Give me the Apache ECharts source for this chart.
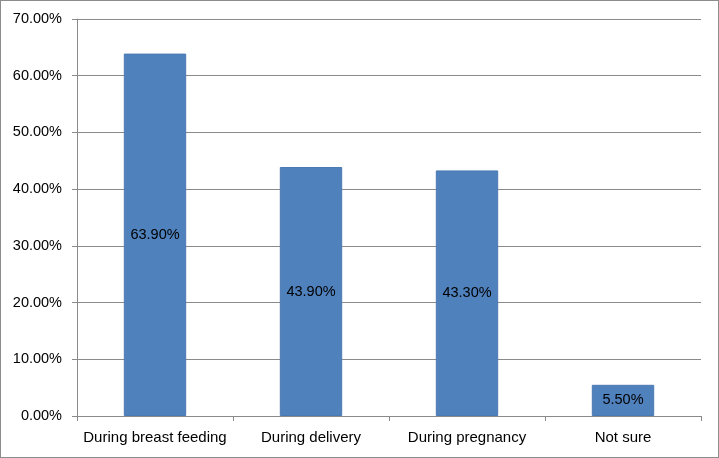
<!DOCTYPE html>
<html>
<head>
<meta charset="utf-8">
<script src="https://cdn.jsdelivr.net/npm/echarts@6/dist/echarts.min.js"></script>
<style>
  html, body { margin: 0; padding: 0; background: #fff; }
  #chart { width: 717px; height: 456px; border: 1px solid #8c8c8c; }
</style>
</head>
<body>
<div id="chart"></div>
<script>
const categories = ['During breast feeding', 'During delivery', 'During pregnancy', 'Not sure'];
const percentValues = [63.9, 43.9, 43.3, 5.5];
const yTicks = [0, 10, 20, 30, 40, 50, 60, 70];

const gridColor = '#8a8a8a';
const barColor = '#4f81bd';

const chart = echarts.init(document.getElementById('chart'));

chart.setOption({
    animation: false,
    textStyle: { fontFamily: 'Liberation Sans' },
    grid: { left: 76, right: 17, top: 18, bottom: 41 },
    xAxis: {
        type: 'category',
        data: categories,
        boundaryGap: true,
        axisLine: { lineStyle: { color: gridColor, width: 1 } },
        axisTick: { show: true, length: 5, alignWithLabel: false, lineStyle: { color: gridColor } },
        axisLabel: { color: '#000', fontSize: 15, margin: 14, interval: 0 }
    },
    yAxis: {
        type: 'value',
        min: yTicks[0],
        max: yTicks[yTicks.length - 1],
        interval: 10,
        axisLine: { show: true, lineStyle: { color: gridColor, width: 1 } },
        axisTick: { show: true, length: 5, lineStyle: { color: gridColor } },
        splitLine: { lineStyle: { color: gridColor, width: 1 } },
        axisLabel: {
            color: '#000',
            fontSize: 14.5,
            margin: 15,
            formatter: v => v.toFixed(2) + '%'
        }
    },
    series: [{
        type: 'bar',
        data: percentValues,
        barWidth: '40%',
        itemStyle: { color: barColor, borderColor: '#4a7ab3', borderWidth: 1 },
        label: {
            show: true,
            position: 'inside',
            color: '#000',
            fontSize: 14.5,
            formatter: p => p.value.toFixed(2) + '%'
        }
    }]
});
</script>
</body>
</html>
